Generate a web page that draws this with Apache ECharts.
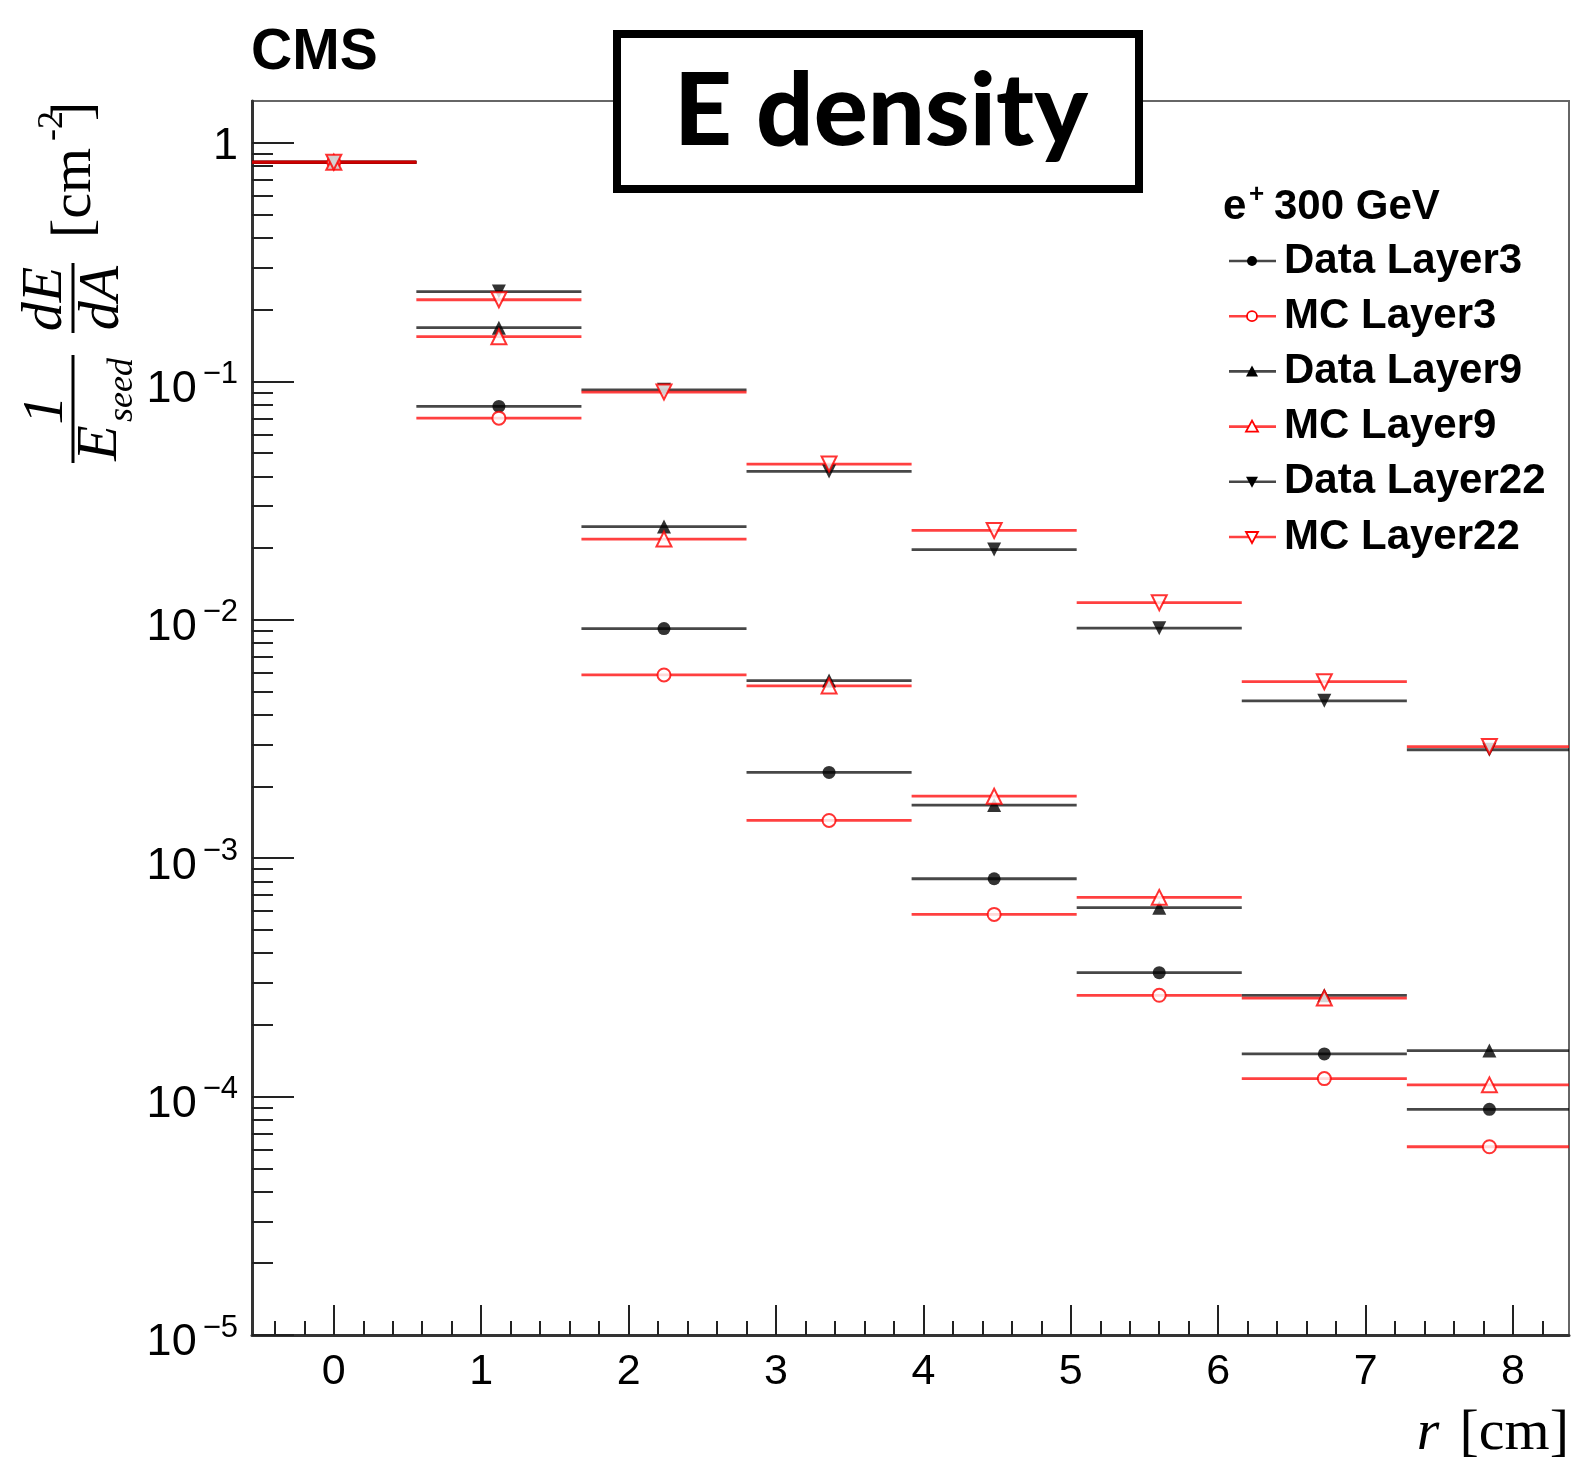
<!DOCTYPE html>
<html>
<head>
<meta charset="utf-8">
<script src="https://cdn.jsdelivr.net/npm/echarts@6/dist/echarts.min.js"></script>
<style>
  html, body { margin: 0; padding: 0; background: #fff; }
  #chart { width: 1573px; height: 1462px; }
</style>
</head>
<body>
<div id="chart"></div>
<script>
// Radial bins of the shower profile (cm)
const binEdges   = [-0.56, 0.56, 1.68, 2.80, 3.92, 5.04, 6.16, 7.28, 8.40];
const binCenters = [0, 1.12, 2.24, 3.36, 4.48, 5.60, 6.72, 7.84];

// 1/E_seed dE/dA per bin (cm^-2)
const dataLayer3  = [0.83, 0.0785, 0.00919, 0.00229, 0.000820, 0.000331, 0.000151, 0.0000884];
const mcLayer3    = [0.83, 0.0701, 0.00587, 0.00144, 0.000581, 0.000266, 0.000119, 0.0000616];
const dataLayer9  = [0.83, 0.168,  0.0246,  0.00556, 0.00167,  0.000620, 0.000266, 0.000156];
const mcLayer9    = [0.83, 0.154,  0.0218,  0.00528, 0.00182,  0.000685, 0.000259, 0.000112];
const dataLayer22 = [0.83, 0.238,  0.0922,  0.0419,  0.0197,   0.00922,  0.00457,  0.00285];
const mcLayer22   = [0.83, 0.220,  0.0902,  0.0450,  0.0237,   0.0118,   0.00550,  0.00294];

// Axis ticks
const xMajorTicks = [0, 1, 2, 3, 4, 5, 6, 7, 8];
const xMinorSteps = [0.2, 0.4, 0.6, 0.8];
const yMajorTicks = [1e-5, 1e-4, 1e-3, 1e-2, 1e-1, 1];
const yTickExponents = ['\u22125', '\u22124', '\u22123', '\u22122', '\u22121', ''];
const yMinorMantissas = [2, 3, 4, 5, 6, 7, 8, 9];

const SANS = '"Liberation Sans", Arial, Helvetica, sans-serif';
const SERIF = '"Liberation Serif", "Times New Roman", serif';

const xMinorTicks = [-0.4, -0.2];
xMajorTicks.forEach(k => xMinorSteps.forEach(s => { if (k + s < 8.38) xMinorTicks.push(+(k + s).toFixed(2)); }));
const yMinorTicks = [];
yMajorTicks.forEach(d => yMinorMantissas.forEach(m => { if (m * d < 1.5) yMinorTicks.push(+(m * d).toPrecision(3)); }));

const seriesDefs = [
  { name: 'Data Layer3',  values: dataLayer3,  color: '#000000', line: 'rgba(0,0,0,0.72)',   symbol: 'circle',        rotate: 0,   size: 13, filled: true,  up: true },
  { name: 'MC Layer3',    values: mcLayer3,    color: '#ff0000', line: 'rgba(255,0,0,0.75)', symbol: 'emptyCircle',   rotate: 0,   size: 13, filled: false, up: true },
  { name: 'Data Layer9',  values: dataLayer9,  color: '#000000', line: 'rgba(0,0,0,0.72)',   symbol: 'triangle',      rotate: 0,   size: 14, filled: true,  up: true },
  { name: 'MC Layer9',    values: mcLayer9,    color: '#ff0000', line: 'rgba(255,0,0,0.75)', symbol: 'emptyTriangle', rotate: 0,   size: 15, filled: false, up: true },
  { name: 'Data Layer22', values: dataLayer22, color: '#000000', line: 'rgba(0,0,0,0.72)',   symbol: 'triangle',      rotate: 180, size: 14, filled: true,  up: false },
  { name: 'MC Layer22',   values: mcLayer22,   color: '#ff0000', line: 'rgba(255,0,0,0.75)', symbol: 'emptyTriangle', rotate: 180, size: 15, filled: false, up: false }
];

const series = [];
seriesDefs.forEach(def => {
  // horizontal bar spanning each bin
  series.push({
    type: 'custom',
    name: def.name + ' bins',
    xAxisIndex: 0, yAxisIndex: 0,
    z: 2,
    silent: true,
    data: binCenters.map((c, i) => [binEdges[i], binEdges[i + 1], def.values[i]]),
    encode: { x: [0, 1], y: 2 },
    renderItem: (params, api) => {
      const cs = params.coordSys;
      const p1 = api.coord([api.value(0), api.value(2)]);
      const p2 = api.coord([api.value(1), api.value(2)]);
      return {
        type: 'line',
        shape: { x1: Math.max(p1[0], cs.x), y1: p1[1], x2: Math.min(p2[0], cs.x + cs.width), y2: p2[1] },
        style: { stroke: def.line, lineWidth: 2.8 }
      };
    }
  });
  // marker at the bin centre
  series.push({
    type: 'scatter',
    name: def.name,
    xAxisIndex: 0, yAxisIndex: 0,
    z: 3,
    symbol: def.symbol,
    symbolSize: def.size,
    symbolRotate: def.rotate,
    itemStyle: def.filled ? { color: def.color } : { color: def.color, borderColor: def.color, borderWidth: 2 },
    data: binCenters.map((c, i) => [c, def.values[i]])
  });
});

// Legend drawn as line + marker + label
const legendX = 1229, legendY0 = 261, legendStep = 55.2;
const legendEls = [];
seriesDefs.forEach((def, i) => {
  const y = legendY0 + i * legendStep;
  const cx = legendX + 23;
  legendEls.push({ type: 'line', shape: { x1: legendX, y1: y, x2: legendX + 47, y2: y }, style: { stroke: def.line, lineWidth: 2.6 } });
  const mstyle = { fill: def.filled ? def.color : '#fff', stroke: def.color, lineWidth: def.filled ? 0 : 1.8 };
  if (def.symbol.indexOf('ircle') >= 0) {
    legendEls.push({ type: 'circle', shape: { cx: cx, cy: y, r: 5 }, style: mstyle });
  } else {
    const pts = def.up ? [[cx, y - 6], [cx - 6, y + 5], [cx + 6, y + 5]] : [[cx, y + 6], [cx - 6, y - 5], [cx + 6, y - 5]];
    legendEls.push({ type: 'polygon', shape: { points: pts }, style: mstyle });
  }
  legendEls.push({ type: 'text', x: 1284, y: y, style: { text: def.name, font: 'bold 42px ' + SANS, fill: '#000', verticalAlign: 'middle', align: 'left' } });
});

const R = Math.PI / 2;
const italic = sz => 'italic ' + sz + 'px ' + SERIF;
const titleEls = [
  // y axis title: 1/E_seed dE/dA [cm^-2]
  { type: 'text', x: 47, y: 410, rotation: R, style: { text: '1', font: italic(58), fill: '#000', align: 'center', verticalAlign: 'middle' } },
  { type: 'line', shape: { x1: 73, y1: 355, x2: 73, y2: 463 }, style: { stroke: '#000', lineWidth: 3 } },
  { type: 'text', x: 101, y: 443, rotation: R, style: { text: 'E', font: italic(58), fill: '#000', align: 'center', verticalAlign: 'middle' } },
  { type: 'text', x: 123, y: 390, rotation: R, style: { text: 'seed', font: italic(36), fill: '#000', align: 'center', verticalAlign: 'middle' } },
  { type: 'text', x: 46, y: 299, rotation: R, style: { text: 'dE', font: italic(58), fill: '#000', align: 'center', verticalAlign: 'middle' } },
  { type: 'line', shape: { x1: 73, y1: 263, x2: 73, y2: 333 }, style: { stroke: '#000', lineWidth: 3 } },
  { type: 'text', x: 103, y: 298, rotation: R, style: { text: 'dA', font: italic(58), fill: '#000', align: 'center', verticalAlign: 'middle' } },
  { type: 'text', x: 75, y: 238, rotation: R, style: { text: '[cm', font: '58px ' + SERIF, fill: '#000', align: 'left', verticalAlign: 'middle' } },
  { type: 'text', x: 53, y: 141, rotation: R, style: { text: '-2', font: '36px ' + SERIF, fill: '#000', align: 'left', verticalAlign: 'middle' } },
  { type: 'text', x: 75, y: 121, rotation: R, style: { text: ']', font: '58px ' + SERIF, fill: '#000', align: 'left', verticalAlign: 'middle' } },
  // x axis title
  { type: 'text', x: 1428, y: 1434, style: { text: 'r', font: italic(58), fill: '#000', align: 'center', verticalAlign: 'middle' } },
  { type: 'text', x: 1569, y: 1434, style: { text: '[cm]', font: '58px ' + SERIF, fill: '#000', align: 'right', verticalAlign: 'middle' } },
  // experiment label
  { type: 'text', x: 251, y: 53, style: { text: 'CMS', font: 'bold 57px ' + SANS, fill: '#000', align: 'left', verticalAlign: 'middle' } },
  // legend header
  { type: 'text', x: 1223, y: 207, style: { text: 'e', font: 'bold 42px ' + SANS, fill: '#000', align: 'left', verticalAlign: 'middle' } },
  { type: 'text', x: 1249, y: 195, style: { text: '+', font: 'bold 26px ' + SANS, fill: '#000', align: 'left', verticalAlign: 'middle' } },
  { type: 'text', x: 1274, y: 207, style: { text: '300 GeV', font: 'bold 42px ' + SANS, fill: '#000', align: 'left', verticalAlign: 'middle' } },
  // boxed heading
  { type: 'rect', z: 100, shape: { x: 617, y: 34, width: 522, height: 155 }, style: { fill: '#fff', stroke: '#000', lineWidth: 8 } },
  { type: 'text', z: 101, x: 881, y: 112, style: { text: 'E density', font: '900 101px Lato, ' + SANS, fill: '#000', align: 'center', verticalAlign: 'middle' } }
];

const chart = echarts.init(document.getElementById('chart'), null, { renderer: 'canvas' });
chart.setOption({
  backgroundColor: '#fff',
  animation: false,
  grid: { left: 252, top: 101, width: 1317, height: 1234, show: true, borderColor: '#666', borderWidth: 2, backgroundColor: 'transparent' },
  xAxis: [
    {
      type: 'value', min: -0.555, max: 8.38, position: 'bottom',
      axisLine: { show: true, onZero: false, lineStyle: { color: '#333', width: 3 } },
      axisTick: { show: true, inside: true, length: 30, customValues: xMajorTicks, lineStyle: { color: '#222', width: 2 } },
      axisLabel: { show: true, customValues: xMajorTicks, margin: 16, color: '#000', fontSize: 43, fontFamily: SANS },
      splitLine: { show: false }
    },
    {
      type: 'value', min: -0.555, max: 8.38, position: 'bottom',
      axisLine: { show: false, onZero: false },
      axisTick: { show: true, inside: true, length: 14, customValues: xMinorTicks, lineStyle: { color: '#222', width: 2 } },
      axisLabel: { show: false },
      splitLine: { show: false }
    }
  ],
  yAxis: [
    {
      type: 'log', logBase: 10, min: 1e-5, max: 1.5, position: 'left',
      axisLine: { show: true, onZero: false, lineStyle: { color: '#333', width: 3 } },
      axisTick: { show: true, inside: true, length: 42, customValues: yMajorTicks, lineStyle: { color: '#222', width: 2 } },
      axisLabel: {
        show: true, customValues: yMajorTicks, margin: 14, color: '#000',
        formatter: v => {
          const i = yMajorTicks.findIndex(t => Math.abs(Math.log10(t) - Math.log10(v)) < 1e-6);
          const e = yTickExponents[i];
          return e ? '{b|10}{s|' + e + '}' : '{one|1}';
        },
        rich: {
          b:   { fontSize: 45, fontFamily: SANS, color: '#000', padding: [16, 0, 0, 0] },
          s:   { fontSize: 31, fontFamily: SANS, color: '#000', verticalAlign: 'top', padding: [8, 0, 0, 6] },
          one: { fontSize: 45, fontFamily: SANS, color: '#000', padding: [8, 0, 0, 0] }
        }
      },
      splitLine: { show: false }
    },
    {
      type: 'log', logBase: 10, min: 1e-5, max: 1.5, position: 'left',
      axisLine: { show: false, onZero: false },
      axisTick: { show: true, inside: true, length: 21, customValues: yMinorTicks, lineStyle: { color: '#222', width: 2 } },
      axisLabel: { show: false },
      splitLine: { show: false }
    }
  ],
  series: series,
  graphic: { elements: titleEls.concat(legendEls) }
});
</script>
</body>
</html>
